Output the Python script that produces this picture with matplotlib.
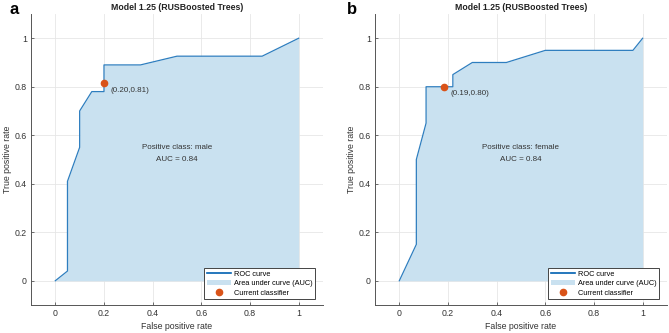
import numpy as np
import matplotlib
matplotlib.use('Agg')
import matplotlib.pyplot as plt

# ROC curve points, panel a (positive class: male)
fpr_male = [0, 0.05, 0.05, 0.10, 0.10, 0.15, 0.20, 0.20, 0.35, 0.50, 0.85, 1.0]
tpr_male = [0, 0.04, 0.41, 0.55, 0.70, 0.78, 0.78, 0.89, 0.89, 0.926, 0.926, 1.0]
cur_male = (0.20, 0.814)

# ROC curve points, panel b (positive class: female)
fpr_female = [0, 0.07, 0.07, 0.11, 0.11, 0.22, 0.22, 0.30, 0.44, 0.60, 0.96, 1.0]
tpr_female = [0, 0.15, 0.50, 0.65, 0.80, 0.80, 0.85, 0.90, 0.90, 0.95, 0.95, 1.0]
cur_female = (0.184, 0.80)

panels = [
    ("a", fpr_male, tpr_male, cur_male, "(0.20,0.81)", "male", "0.84"),
    ("b", fpr_female, tpr_female, cur_female, "(0.19,0.80)", "female", "0.84"),
]

plt.rcParams['font.family'] = ['Liberation Sans', 'DejaVu Sans']

line_col = '#2E7EBF'
fill_col = '#C9E1F0'
dot_col = '#D95319'
txt_col = '#333333'

fig = plt.figure(figsize=(6.69, 3.33), dpi=100)
lefts = [0.0463, 0.5605]
width = 0.4365
labx = [0.0135, 0.519]

for i, (lab, fpr, tpr, cur, curtxt, cls, auc) in enumerate(panels):
    ax = fig.add_axes([lefts[i], 0.0841, width, 0.8739])
    ax.fill_between(fpr, tpr, 0, color=fill_col, linewidth=0, label="Area under curve (AUC)")
    ax.plot(fpr, tpr, color=line_col, lw=0.9, label="ROC curve")
    ax.plot([cur[0]], [cur[1]], 'o', color=dot_col, ms=4.5, label="Current classifier")
    ax.text(cur[0] + 0.028, cur[1] - 0.028, curtxt, fontsize=5.8, color=txt_col, va='center')
    ax.text(0.5, 0.548, "Positive class: " + cls, fontsize=5.8, ha='center', va='center', color=txt_col)
    ax.text(0.5, 0.498, "AUC = " + auc, fontsize=5.8, ha='center', va='center', color=txt_col)

    ax.set_xlim(-0.1, 1.1)
    ax.set_ylim(-0.1, 1.1)
    ax.set_xticks(np.arange(0, 1.01, 0.2))
    ax.set_yticks(np.arange(0, 1.01, 0.2))
    ax.set_xticklabels(['0', '0.2', '0.4', '0.6', '0.8', '1'])
    ax.set_yticklabels(['0', '0.2', '0.4', '0.6', '0.8', '1'])
    ax.grid(True, color='#E6E6E6', lw=0.6)
    ax.set_axisbelow(True)
    for s in ['top', 'right']:
        ax.spines[s].set_visible(False)
    for s in ['left', 'bottom']:
        ax.spines[s].set_color('#555555')
        ax.spines[s].set_linewidth(0.7)
    ax.tick_params(labelsize=6.3, colors='#555555', labelcolor=txt_col, length=2.5,
                   width=0.6, direction='in', pad=3)
    ax.set_xlabel("False positive rate", fontsize=6.3, color=txt_col, labelpad=3)
    ax.set_ylabel("True positive rate", fontsize=6.3, color=txt_col, labelpad=1.5)
    ax.set_title("Model 1.25 (RUSBoosted Trees)", fontsize=6.3, fontweight='bold', pad=3,
                 color='#222222')

    h, l = ax.get_legend_handles_labels()
    order = [1, 0, 2]
    h[1] = matplotlib.lines.Line2D([], [], color='#0060B0', lw=1.2)
    leg = ax.legend([h[j] for j in order], [l[j] for j in order], loc='lower right',
                    fontsize=5.3, frameon=True, fancybox=False, borderpad=0.35,
                    handlelength=3.3, handletextpad=0.4, labelspacing=0.3,
                    borderaxespad=0, bbox_to_anchor=(0.973, 0.02))
    leg.get_frame().set_edgecolor('#444444')
    leg.get_frame().set_linewidth(0.7)
    leg.get_frame().set_alpha(1)

    fig.text(labx[i], 0.972, lab, fontsize=12, fontweight='bold', va='center')

fig.savefig("out.png", dpi=100)
